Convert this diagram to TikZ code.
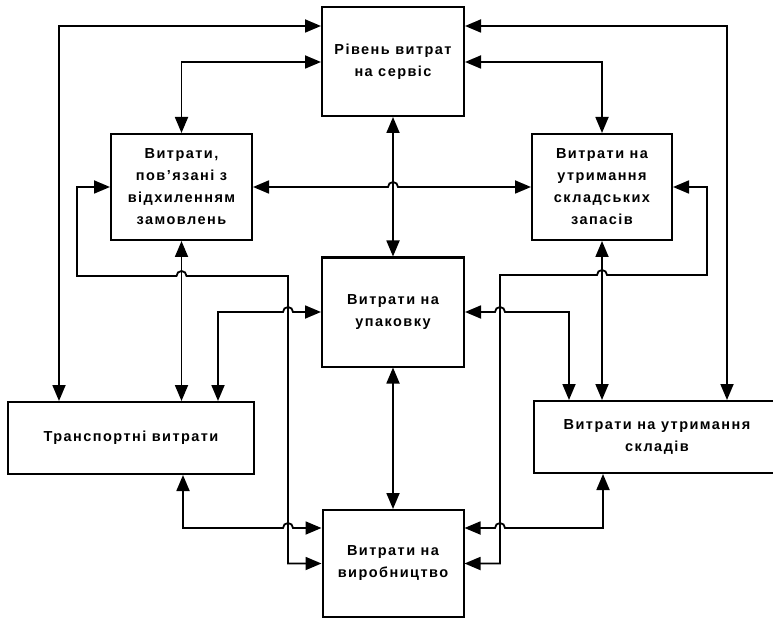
\documentclass[tikz,border=0pt]{standalone}
\usepackage{fontspec}
\setmainfont{Liberation Sans}
\usetikzlibrary{positioning,arrows.meta}

\begin{document}
\begin{tikzpicture}[x=1pt,y=1pt,
	>={Triangle[length=16pt,width=13pt]},
	box/.style={draw,line width=2pt,align=center,inner sep=0pt,
		font=\bfseries\fontsize{14.5}{22}\selectfont\addfontfeature{LetterSpace=10}},
	link/.style={<->,line width=1.8pt}]
	\useasboundingbox (0,0) rectangle (773,-620);
	\node[box,minimum width=142pt,minimum height=109pt] (serv) at (393,-61.5) {Рівень витрат\\на сервіс};
	\node[box,minimum width=141pt,minimum height=106pt] (vidh) at (181.5,-187) {Витрати,\\пов'язані з\\відхиленням\\замовлень};
	\node[box,minimum width=140pt,minimum height=106pt] (zap) at (602,-187) {Витрати на\\утримання\\складських\\запасів};
	\node[box,minimum width=142pt,minimum height=109pt] (upak) at (393,-312) {Витрати на\\упаковку};
	\node[box,minimum width=246pt,minimum height=72pt] (trans) at (131,-438) {Транспортні витрати};
	\node[box,minimum width=246pt,minimum height=72pt] (sklad) at (657,-437) {Витрати на утримання\\складів};
	\node[box,minimum width=141pt,minimum height=107pt] (vyrob) at (393,-563.5) {Витрати на\\виробництво};

	\draw[link] (serv.west |- 0,-26) -| (59,0 |- trans.north);
	\draw[link] (serv.east |- 0,-26) -| (727,0 |- sklad.north);
	\draw[link] (serv.west |- 0,-62) -| (vidh.north);
	\draw[link] (serv.east |- 0,-62) -| (zap.north);
	\draw[link] (serv.south) -- (upak.north);
	\draw[link] (upak.south) -- (vyrob.north);
	\draw[link] (vidh.east) -- (388,-187) arc (180:0:5) -- (zap.west);

	\draw[link] (vidh.south) -- (vidh.south |- trans.north);
	\draw[link] (vidh.west) -| (77,-276) -- (176.5,-276) arc (180:0:5) -- (288,-276) |- (vyrob.west);
	\draw[link] (upak.west) -- (293,-312) arc (0:180:5) -- (218,-312) -- (218,0 |- trans.north);
	\draw[link] (183,0 |- trans.south) |- (283,-528) arc (180:0:5) -- (vyrob.west |- 0,-528);

	\draw[link] (zap.south) -- (zap.south |- sklad.north);
	\draw[link] (zap.east) -| (707,-275) -- (607,-275) arc (0:180:5) -- (500,-275) |- (vyrob.east);
	\draw[link] (upak.east) -- (495,-312) arc (180:0:5) -- (569,-312) -- (569,0 |- sklad.north);
	\draw[link] (603,0 |- sklad.south) |- (505,-528) arc (0:180:5) -- (vyrob.east |- 0,-528);
\end{tikzpicture}
\end{document}
